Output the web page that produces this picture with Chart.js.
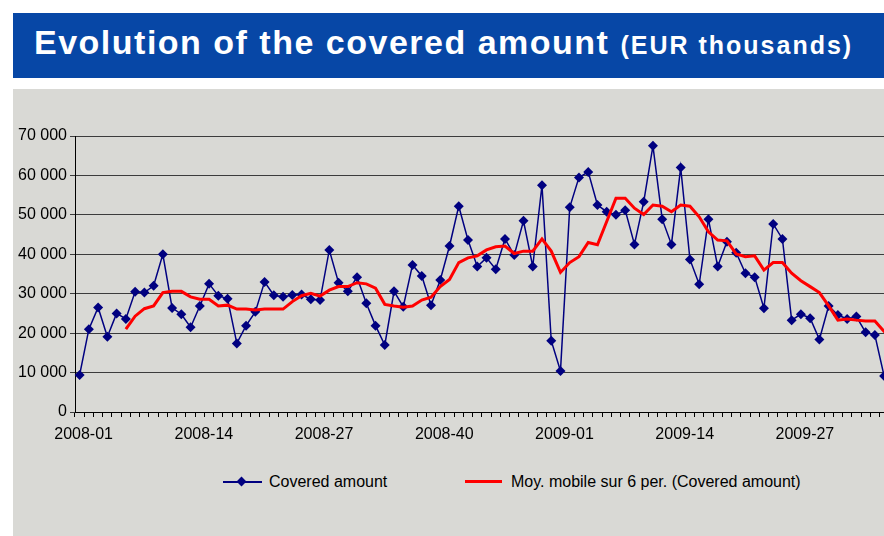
<!DOCTYPE html>
<html>
<head>
<meta charset="utf-8">
<script src="https://cdn.jsdelivr.net/npm/chart.js@4/dist/chart.umd.min.js"></script>
<style>
  html, body { margin: 0; padding: 0; width: 884px; height: 536px; overflow: hidden; background: #fff; font-family: "Liberation Sans", Arial, sans-serif; }
  #title { position: absolute; left: 13px; top: 13px; width: 900px; height: 65px; background: #0747a6; }
  #title span.big { position: absolute; left: 21px; top: 10px; color: #fff; font-weight: bold; font-size: 34px; letter-spacing: 1.5px; white-space: nowrap; }
  #title span.small { font-size: 25px; letter-spacing: 2px; }
  #panel { position: absolute; left: 13px; top: 89px; width: 900px; height: 460px; background: #d9d9d5; }
  #chart { position: absolute; left: 13px; top: 89px; }
  .leg { position: absolute; top: 473px; font-size: 16px; color: #000; white-space: nowrap; }
  .legline { position: absolute; }
</style>
</head>
<body>
<div id="title"><span class="big">Evolution of the covered amount <span class="small">(EUR thousands)</span></span></div>
<div id="panel"></div>
<canvas id="chart" width="890" height="371"></canvas>

<div class="legline" style="left:223px;top:481px;width:39px;height:2px;background:#000080"></div>
<div class="legline" style="left:238px;top:478px;width:7px;height:7px;background:#000080;transform:rotate(45deg)"></div>
<div class="leg" style="left:269px">Covered amount</div>
<div class="legline" style="left:465px;top:480px;width:37px;height:3px;background:#ff0000"></div>
<div class="leg" style="left:511px">Moy. mobile sur 6 per. (Covered amount)</div>

<script>
// weeks 2008-01 .. 2009-37
var weeks = [];
for (var w = 1; w <= 52; w++) weeks.push('2008-' + (w < 10 ? '0' + w : w));
for (var w = 1; w <= 37; w++) weeks.push('2009-' + (w < 10 ? '0' + w : w));

var coveredAmount = [9400, 21000, 26500, 19100, 25000, 23600, 30500, 30300, 32000, 40000,
  26400, 24800, 21500, 26900, 32500, 29500, 28700, 17400, 21900, 25400,
  33000, 29600, 29200, 29700, 29800, 28600, 28400, 41100, 32800, 30600,
  34200, 27600, 21900, 17000, 30600, 26700, 37300, 34500, 27100, 33500,
  42100, 52200, 43600, 36900, 39100, 36200, 43900, 39800, 48500, 36900,
  57500, 18100, 10400, 51900, 59500, 60900, 52500, 50800, 50000, 51200,
  42500, 53300, 67500, 48900, 42500, 62000, 38700, 32400, 48900, 36900,
  43200, 40400, 35200, 34200, 26300, 47700, 43900, 23300, 24800, 23800,
  18400, 26900, 24600, 23600, 24200, 20200, 19500, 9100, 9800];

var movingAvg = [null, null, null, null, null, 21000, 24300, 26200, 26900, 30300,
  30600, 30600, 29200, 28600, 28600, 26900, 27100, 26100, 26100, 25900,
  26100, 26100, 26100, 28000, 29500, 30100, 29400, 30900, 31800, 31800,
  32800, 32500, 31400, 27300, 26900, 26600, 26900, 28400, 29100, 31800,
  33600, 37900, 39100, 39600, 41100, 41900, 42100, 40200, 40800, 40800,
  43900, 40800, 35400, 37900, 39400, 43000, 42400, 48300, 54200, 54200,
  51700, 50100, 52500, 52200, 50800, 52500, 52200, 49500, 45700, 43600,
  43400, 40100, 39400, 39600, 36000, 37900, 37900, 35200, 33300, 31800,
  30300, 26900, 23300, 23600, 23300, 23100, 23100, 20400, 18300];

var yTicks = [0, 10000, 20000, 30000, 40000, 50000, 60000, 70000];
var labelEvery = 13;

Chart.defaults.font.family = '"Liberation Sans", Arial, sans-serif';
Chart.defaults.color = '#000';

var ctx = document.getElementById('chart').getContext('2d');
var chart = new Chart(ctx, {
  type: 'line',
  data: {
    labels: weeks,
    datasets: [{
      label: 'Covered amount',
      data: coveredAmount,
      borderColor: '#000080',
      backgroundColor: '#000080',
      borderWidth: 1.5,
      pointStyle: 'rectRot',
      pointRadius: 5,
      pointBorderWidth: 0,
      tension: 0,
      order: 2
    }, {
      label: 'Moy. mobile sur 6 per. (Covered amount)',
      data: movingAvg,
      borderColor: '#ff0000',
      backgroundColor: '#ff0000',
      borderWidth: 3,
      pointRadius: 0,
      tension: 0,
      order: 1
    }]
  },
  options: {
    responsive: false,
    animation: false,
    devicePixelRatio: 1,
    layout: { padding: { top: 47, right: 1, left: 0, bottom: 0 } },
    plugins: { legend: { display: false }, tooltip: { enabled: false } },
    scales: {
      x: {
        offset: true,
        grid: { drawOnChartArea: false, color: '#000', tickLength: 5, offset: true },
        border: { color: '#000', width: 1 },
        ticks: {
          autoSkip: false, maxRotation: 0, minRotation: 0, padding: 8, labelOffset: 4,
          font: { size: 16 },
          callback: function (v, i) { return i % labelEvery === 0 ? weeks[i] : ''; }
        },
        afterFit: function (s) { s.height = 48; }
      },
      y: {
        min: 0, max: 70000,
        afterBuildTicks: function (s) { s.ticks = yTicks.map(function (v) { return { value: v }; }); },
        grid: { color: '#3c3c3c', lineWidth: 1, tickLength: 5 },
        border: { color: '#000', width: 1 },
        ticks: {
          padding: 3, font: { size: 16 },
          callback: function (v) { return v === 0 ? '0' : (v / 1000) + ' 000'; }
        },
        afterFit: function (s) { s.width = 62; }
      }
    }
  }
});
</script>
</body>
</html>
